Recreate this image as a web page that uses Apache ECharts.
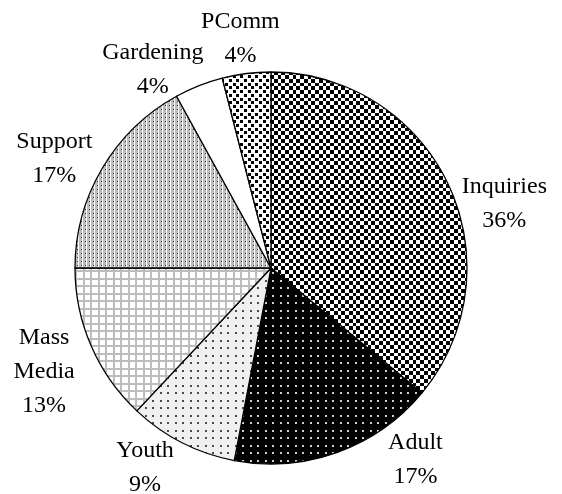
<!DOCTYPE html>
<html>
<head>
<meta charset="utf-8">
<script src="https://cdn.jsdelivr.net/npm/echarts@6/dist/echarts.min.js"></script>
<style>
  html, body { margin: 0; padding: 0; background: #fff; }
  #chart { width: 562px; height: 494px; }
</style>
</head>
<body>
<div id="chart"></div>
<script>
// Share of programme activity by category (percent)
const categories = ['Inquiries', 'Adult', 'Youth', 'Mass Media', 'Support', 'Gardening', 'PComm'];
const shares = [36, 17, 9, 13, 17, 4, 4];

// Label nudges (px) applied after placing each label at its slice's mid-angle on the rim
const labelNudge = [[56, 19], [78, 7], [-37, 25], [-47, 26], [-48, -10], [-46, -16], [-6, -35]];

const PIE_CENTER = [271, 268];
const PIE_RADIUS = 196;

// ---- fill patterns ----
function tile(size, draw) {
  const c = document.createElement('canvas');
  c.width = size; c.height = size;
  const g = c.getContext('2d');
  draw(g, size);
  return { image: c, repeat: 'repeat' };
}
const step = [0, 4, 8, 11, 15]; // 7.5px period inside a 15px tile

const checker = tile(15, (g) => {
  g.fillStyle = '#fff'; g.fillRect(0, 0, 15, 15);
  g.fillStyle = '#000';
  for (let i = 0; i < 4; i++) for (let j = 0; j < 4; j++) {
    if ((i + j) % 2 === 0) g.fillRect(step[i], step[j], step[i + 1] - step[i], step[j + 1] - step[j]);
  }
});
const darkDots = tile(15, (g) => {
  g.fillStyle = '#000'; g.fillRect(0, 0, 15, 15);
  g.fillStyle = '#d0d0d0';
  [[2, 2], [10, 2], [2, 10], [10, 10]].forEach(p => g.fillRect(p[0], p[1], 2, 2));
});
const lightDots = tile(15, (g) => {
  g.fillStyle = '#f0f0f0'; g.fillRect(0, 0, 15, 15);
  g.fillStyle = '#4a4a4a';
  [[2, 2], [10, 2], [2, 10], [10, 10]].forEach(p => g.fillRect(p[0], p[1], 2, 2));
});
const grid = tile(15, (g) => {
  g.fillStyle = '#fff'; g.fillRect(0, 0, 15, 15);
  g.fillStyle = '#bdbdbd';
  [0, 8].forEach(v => { g.fillRect(v, 0, 2, 15); g.fillRect(0, v, 15, 2); });
});
const fineDots = tile(8, (g) => {
  g.fillStyle = '#bcbcbc'; g.fillRect(0, 0, 8, 8);
  g.fillStyle = '#ffffff';
  [[0, 0], [4, 0], [0, 4], [4, 4]].forEach(p => g.fillRect(p[0] + 2, p[1], 1, 4));
  g.fillStyle = '#333';
  [[0, 0], [4, 0], [0, 4], [4, 4]].forEach(p => g.fillRect(p[0] + 1, p[1] + 1, 1, 1));
});
const blackSpeckle = tile(15, (g) => {
  g.fillStyle = '#fff'; g.fillRect(0, 0, 15, 15);
  g.fillStyle = '#000';
  [[0, 0], [8, 0], [4, 4], [11, 4], [0, 8], [8, 8], [4, 11], [11, 11]].forEach(p => g.fillRect(p[0], p[1], 3, 3));
});

const fills = [checker, darkDots, lightDots, grid, fineDots, '#ffffff', blackSpeckle];

// mid-angle (degrees, clockwise from 12 o'clock) of each slice
const total = shares.reduce((a, b) => a + b, 0);
const midAngles = [];
{
  let acc = 0;
  shares.forEach(v => { midAngles.push((acc + v / 2) / total * 360); acc += v; });
}

const chart = echarts.init(document.getElementById('chart'), null, { renderer: 'canvas' });
chart.setOption({
  animation: false,
  backgroundColor: '#fff',
  series: [{
    type: 'pie',
    center: PIE_CENTER,
    radius: PIE_RADIUS,
    startAngle: 90,
    clockwise: true,
    avoidLabelOverlap: false,
    data: categories.map((name, i) => ({
      name: name,
      value: shares[i],
      itemStyle: { color: fills[i] }
    })),
    itemStyle: { borderColor: '#000', borderWidth: 1.3 },
    emphasis: { disabled: true },
    label: {
      show: true,
      position: 'outside',
      formatter: p => p.name.replace(' ', '\n') + '\n' + p.value + '%',
      fontFamily: '"Liberation Serif", "Times New Roman", serif',
      fontSize: 24,
      lineHeight: 34,
      color: '#000'
    },
    labelLine: { show: false },
    labelLayout: function (params) {
      const i = params.dataIndex;
      const a = midAngles[i] * Math.PI / 180;
      const x = PIE_CENTER[0] + PIE_RADIUS * Math.sin(a) + labelNudge[i][0];
      const y = PIE_CENTER[1] - PIE_RADIUS * Math.cos(a) + labelNudge[i][1];
      return { x: x, y: y, align: 'center', verticalAlign: 'middle' };
    }
  }]
});
</script>
</body>
</html>
